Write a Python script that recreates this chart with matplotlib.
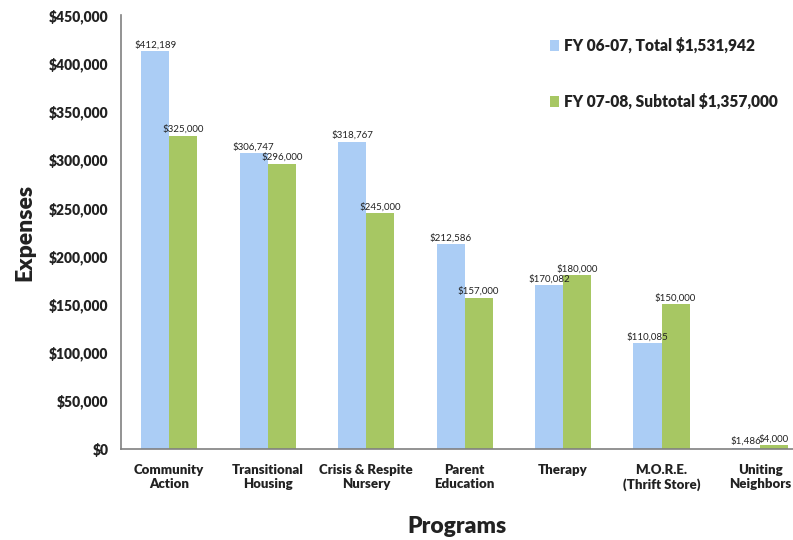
import matplotlib
matplotlib.use('Agg')
import matplotlib.pyplot as plt
import numpy as np
from matplotlib.ticker import FuncFormatter

programs = ["Community\nAction", "Transitional\nHousing", "Crisis & Respite\nNursery",
            "Parent\nEducation", "Therapy", "M.O.R.E.\n(Thrift Store)", "Uniting\nNeighbors"]
fy0607 = [412189, 306747, 318767, 212586, 170082, 110085, 1486]
fy0708 = [325000, 296000, 245000, 157000, 180000, 150000, 4000]
legend_labels = ["FY 06-07, Total $1,531,942", "FY 07-08, Subtotal $1,357,000"]
yticks = np.arange(0, 450001, 50000)

blue = '#abcdf5'
green = '#a7c763'
dark = '#222222'
plt.rcParams['font.family'] = ['Lato', 'DejaVu Sans']

fig = plt.figure(figsize=(7.93, 5.40), dpi=100)
ax = fig.add_axes([121 / 793, 1 - 449 / 540, 1 - 121 / 793, 434 / 540])

x = np.arange(len(programs))
w = 0.285
b1 = ax.bar(x - w / 2, fy0607, w, color=blue, label=legend_labels[0])
b2 = ax.bar(x + w / 2, fy0708, w, color=green, label=legend_labels[1])

# value labels just above each bar
for bars, vals in ((b1, fy0607), (b2, fy0708)):
    for r, v in zip(bars, vals):
        ax.text(r.get_x() + r.get_width() / 2, v + 1500, "${:,}".format(v),
                ha='center', va='bottom', fontsize=7, color=dark)

ax.set_xlim(-0.49, 6.335)
ax.set_ylim(0, 450000)
ax.set_yticks(yticks)
ax.yaxis.set_major_formatter(FuncFormatter(lambda v, p: "${:,.0f}".format(v)))
ax.set_xticks(x)
ax.set_xticklabels(programs, fontsize=9.5, fontweight='heavy', color=dark, linespacing=1.2)
for lab in ax.get_yticklabels():
    lab.set_fontsize(10)
    lab.set_fontweight('heavy')
    lab.set_color(dark)
ax.tick_params(axis='both', length=0)
ax.tick_params(axis='y', pad=9)
ax.tick_params(axis='x', pad=11)

for s in ('top', 'right'):
    ax.spines[s].set_visible(False)
for s in ('left', 'bottom'):
    ax.spines[s].set_color('#808080')
    ax.spines[s].set_linewidth(1.2)

ax.set_ylabel("Expenses", fontsize=16.5, fontweight='heavy', color=dark, labelpad=10)
ax.set_xlabel("Programs", fontsize=16.5, fontweight='heavy', color=dark, labelpad=18)

leg = ax.legend(loc='upper left', bbox_to_anchor=(0.617, 0.98), frameon=False,
                prop={'weight': 'heavy', 'size': 11.2}, handlelength=0.6, handleheight=0.7,
                handletextpad=0.35, labelspacing=2.55)
for t in leg.get_texts():
    t.set_color(dark)

fig.savefig('out.png', dpi=100)
